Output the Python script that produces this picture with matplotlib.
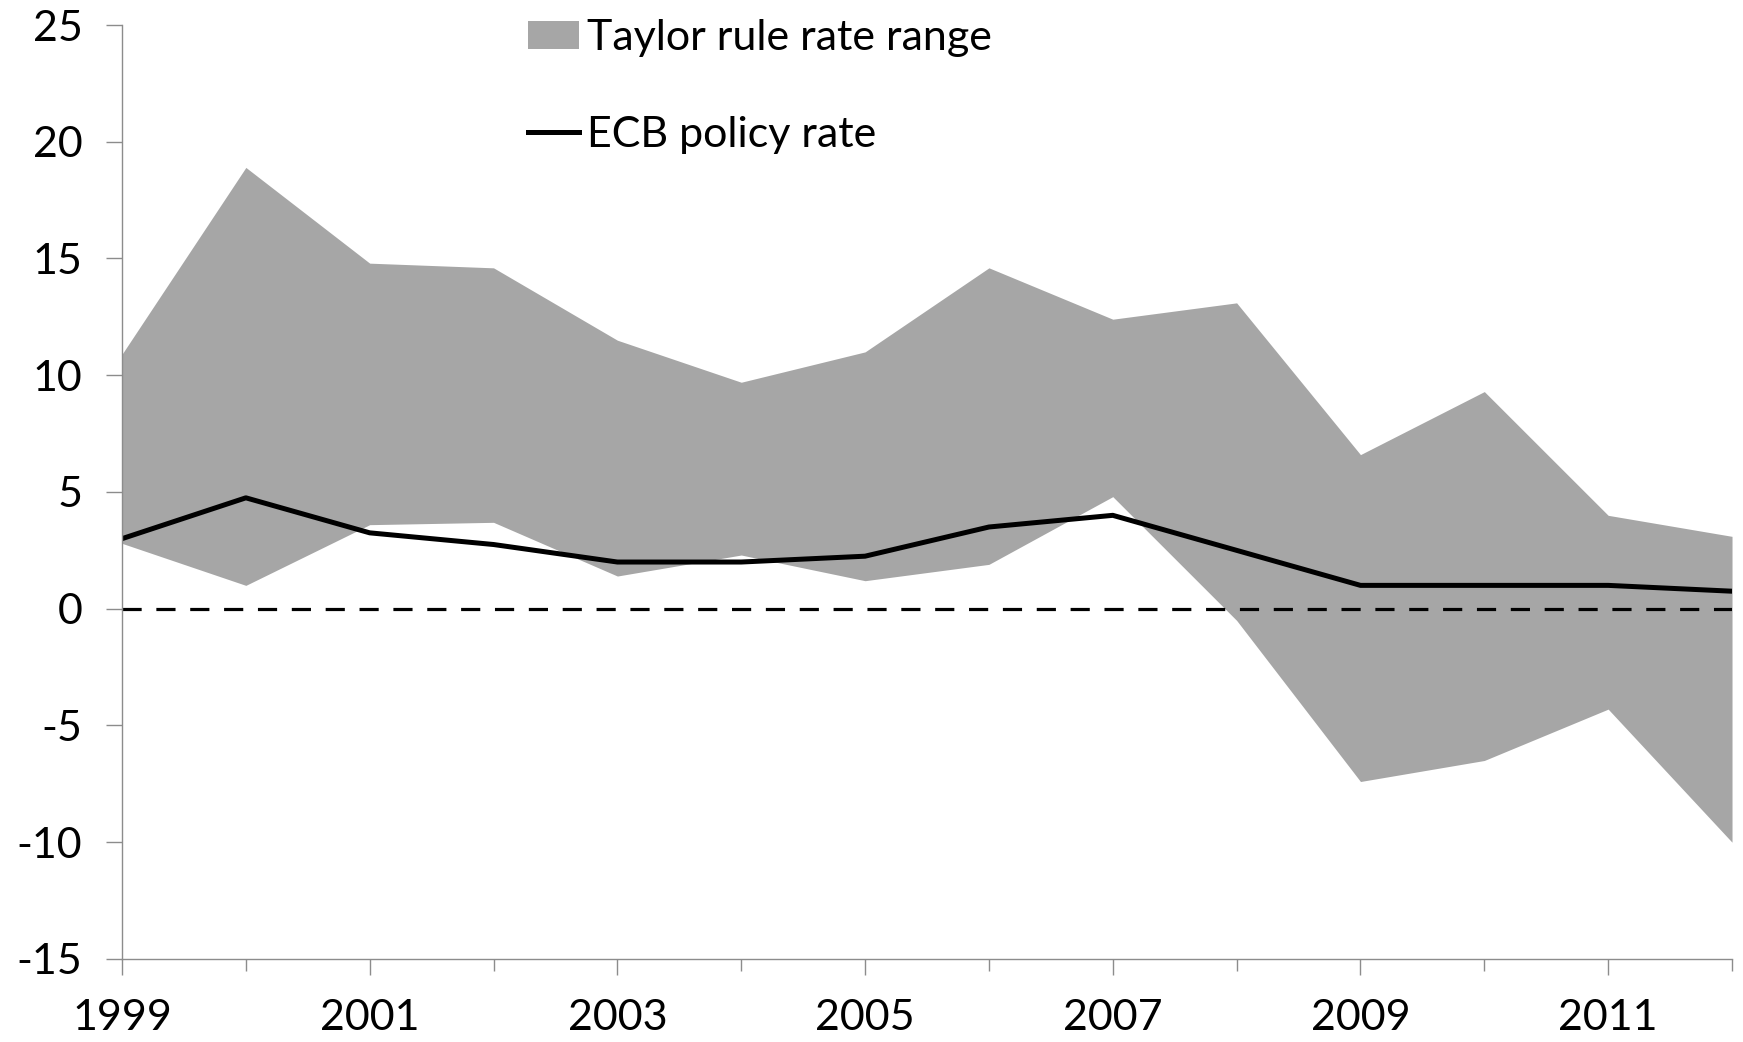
import matplotlib
matplotlib.use("Agg")
import matplotlib.pyplot as plt
from matplotlib.patches import Patch
from matplotlib.lines import Line2D

plt.rcParams['font.family'] = ['Lato', 'DejaVu Sans']

# data
years = [1999, 2000, 2001, 2002, 2003, 2004, 2005, 2006, 2007, 2008, 2009, 2010, 2011, 2012]
taylor_high = [10.9, 18.9, 14.8, 14.6, 11.5, 9.7, 11.0, 14.6, 12.4, 13.1, 6.6, 9.3, 4.0, 3.1]
taylor_low = [2.8, 1.0, 3.6, 3.7, 1.4, 2.3, 1.2, 1.9, 4.8, -0.5, -7.4, -6.5, -4.3, -10.0]
ecb_rate = [3.0, 4.75, 3.25, 2.75, 2.0, 2.0, 2.25, 3.5, 4.0, 2.5, 1.0, 1.0, 1.0, 0.75]

yticks = [-15, -10, -5, 0, 5, 10, 15, 20, 25]
xticks_major = [1999, 2001, 2003, 2005, 2007, 2009, 2011]

fig = plt.figure(figsize=(17.43, 10.42), dpi=100)
ax = fig.add_axes([0.070, 0.0797, 0.9237, 0.8963])

ax.fill_between(years, taylor_low, taylor_high, color='#a6a6a6', linewidth=0)
ax.plot(years, ecb_rate, color='black', linewidth=3.6, solid_joinstyle='round')
ax.axhline(0, color='black', linewidth=2.3, dashes=(6.0, 4.6))

ax.set_xlim(1999, 2012)
ax.set_ylim(-15, 25)
ax.set_yticks(yticks)
ax.set_yticklabels([str(v) for v in yticks])
ax.set_xticks(xticks_major)
ax.set_xticks(years, minor=True)
ax.set_xticklabels([str(v) for v in xticks_major])

for side in ['top', 'right']:
    ax.spines[side].set_visible(False)
for side in ['left', 'bottom']:
    ax.spines[side].set_color('#8c8c8c')
    ax.spines[side].set_linewidth(1.0)

ax.tick_params(axis='y', which='major', direction='out', length=11.5, width=1.0,
               color='#8c8c8c', labelsize=31, pad=17)
ax.tick_params(axis='x', which='major', direction='out', length=11.5, width=1.0,
               color='#8c8c8c', labelsize=31, pad=17)
ax.tick_params(axis='x', which='minor', direction='out', length=8.5, width=1.0,
               color='#8c8c8c')

handles = [Patch(facecolor='#a6a6a6', edgecolor='none'),
           Line2D([0], [0], color='black', linewidth=3.6)]
labels = ['Taylor rule rate range', 'ECB policy rate']
ax.legend(handles, labels, loc='upper left', bbox_to_anchor=(528 / 1743, 1 - 19 / 1042),
          bbox_transform=fig.transFigure, frameon=False, fontsize=31,
          handlelength=1.18, handleheight=0.62, handletextpad=0.18,
          labelspacing=1.36, borderpad=0, borderaxespad=0)

fig.savefig('out.png', dpi=100)
